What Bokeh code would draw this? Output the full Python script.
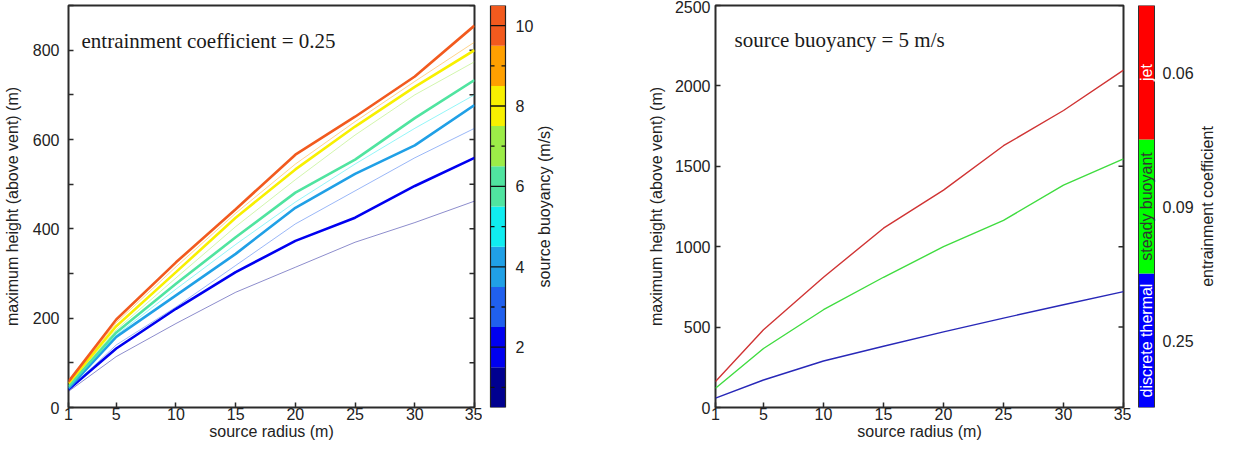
import math
from bokeh.plotting import figure
from bokeh.layouts import row
from bokeh.models import Range1d, FixedTicker, Label
from bokeh.embed import file_html
from bokeh.resources import INLINE
from bokeh.core.properties import value

# ---------------- data ----------------
radius = [1, 5, 10, 15, 20, 25, 30, 35]
radius_ticks = [1, 5, 10, 15, 20, 25, 30, 35]

buoyancy = [1, 2, 3, 4, 5, 6, 7, 8, 9, 10]
height_b1 = [36, 114, 188, 258, 314, 370, 414, 462]
height_b2 = [40, 132, 221, 303, 373, 425, 496, 559]
height_b3 = [40, 140, 225, 318, 411, 485, 559, 625]
height_b4 = [43, 158, 251, 344, 447, 523, 587, 677]
height_b5 = [45, 162, 265, 365, 460, 545, 625, 700]
height_b6 = [47, 168, 277, 381, 481, 555, 648, 733]
height_b7 = [52, 174, 290, 405, 510, 610, 700, 774]
height_b8 = [54, 182, 303, 425, 533, 629, 718, 800]
height_b9 = [56, 190, 315, 435, 545, 640, 730, 818]
height_b10 = [58, 197, 325, 444, 566, 651, 741, 855]
heights_left = [height_b1, height_b2, height_b3, height_b4, height_b5,
                height_b6, height_b7, height_b8, height_b9, height_b10]
buoyancy_colors = ["#00008F", "#0000F0", "#2060EE", "#20A0E6", "#10ECF0",
                   "#50E4A0", "#9CEC48", "#F8F000", "#FFA000", "#F25A1E"]
left_yticks = [0, 200, 400, 600, 800]
left_yminor = [100, 300, 500, 700, 900]
buoy_ticks = [2, 4, 6, 8, 10]

height_jet = [161, 484, 810, 1115, 1352, 1628, 1847, 2098]
height_steady = [120, 367, 608, 810, 1000, 1164, 1383, 1546]
height_thermal = [58, 171, 289, 381, 470, 556, 639, 721]
regimes = ["discrete thermal", "steady buoyant", "jet"]
regime_coeffs = ["0.25", "0.09", "0.06"]
regime_colors = ["#0000FF", "#00FF00", "#FF0000"]
regime_line_colors = ["#2828B8", "#40DC40", "#D03434"]
regime_text_colors = ["white", "#333333", "white"]
right_yticks = [0, 500, 1000, 1500, 2000, 2500]

FONT = "Liberation Sans"
SERIF = "Liberation Serif"
H = 443
TOP = 5
BOTTOM = 36
FRAME_COL = "#2b2b2b"


def make_panel(width, border_left, ymax, yticks, yminor, ylabel_standoff, tick_standoff):
    p = figure(width=width, height=H, x_range=Range1d(radius[0], radius[-1]),
               y_range=Range1d(0, ymax),
               output_backend="svg", toolbar_location=None,
               min_border_left=border_left, min_border_right=8,
               min_border_top=TOP, min_border_bottom=BOTTOM)
    p.grid.visible = False
    p.outline_line_color = FRAME_COL
    p.outline_line_width = 2
    xa = p.xaxis[0]
    ya = p.yaxis[0]
    xa.ticker = FixedTicker(ticks=radius_ticks, minor_ticks=[])
    ya.ticker = FixedTicker(ticks=yticks, minor_ticks=yminor)
    for ax in (xa, ya):
        ax.axis_line_color = None
        ax.major_tick_in = 5
        ax.major_tick_out = 0
        ax.minor_tick_in = 5
        ax.minor_tick_out = 0
        ax.major_tick_line_color = FRAME_COL
        ax.minor_tick_line_color = FRAME_COL
        ax.major_tick_line_width = 1.5
        ax.minor_tick_line_width = 1.5
        ax.major_label_text_font = FONT
        ax.major_label_text_font_size = "16px"
        ax.major_label_text_color = "#222222"
        ax.axis_label_text_font = FONT
        ax.axis_label_text_font_size = "16px"
        ax.axis_label_text_font_style = "normal"
        ax.axis_label_text_color = "#222222"
    xa.axis_label = "source radius (m)"
    xa.major_label_standoff = 0
    xa.axis_label_standoff = 0
    ya.axis_label = "maximum height (above vent) (m)"
    ya.major_label_standoff = tick_standoff
    ya.axis_label_standoff = ylabel_standoff
    # mirrored tick marks on the right edge of the frame
    all_ticks = list(yticks) + list(yminor)
    p.ray(x=[radius[-1]] * len(all_ticks), y=all_ticks, length=5, length_units="screen",
          angle=math.pi, line_color=FRAME_COL, line_width=1.5)
    return p


# ---------------- left panel ----------------
p1 = make_panel(482, 68, 900, left_yticks, left_yminor, 9, 9)
for b, hs, c in zip(buoyancy, heights_left, buoyancy_colors):
    if b % 2 == 0:
        p1.line(radius, hs, line_color=c, line_width=2.6)
    else:
        p1.line(radius, hs, line_color=c, line_width=1.0, line_alpha=0.45)
p1.add_layout(Label(x=radius[0], y=900, x_offset=13, y_offset=-35,
                    text="entrainment coefficient = 0.25",
                    text_font=SERIF, text_font_size="21px", text_color="#1a1a1a",
                    text_baseline="alphabetic"))

# ---------------- left colorbar ----------------
cb1 = figure(width=110, height=H, x_range=Range1d(0, 110), y_range=Range1d(0.5, 10.5),
             output_backend="svg", toolbar_location=None,
             x_axis_location=None, y_axis_location=None,
             min_border_left=0, min_border_right=0, min_border_top=TOP, min_border_bottom=BOTTOM)
cb1.grid.visible = False
cb1.outline_line_color = None
cb1.quad(left=8, right=23, bottom=[b - 0.5 for b in buoyancy], top=[b + 0.5 for b in buoyancy],
         fill_color=buoyancy_colors, line_color=None)
cb1.quad(left=8, right=23, bottom=buoyancy[0] - 0.5, top=buoyancy[-1] + 0.5,
         fill_color=None, line_color="#222222", line_width=1.2)
even = [b for b in buoyancy if b % 2 == 0]
odd = [b for b in buoyancy if b % 2 == 1]
cb1.segment(x0=8, x1=23, y0=even, y1=even, line_color="#111111", line_width=1.3)
cb1.segment(x0=8, x1=12, y0=odd, y1=odd, line_color="#111111", line_width=1.3)
cb1.segment(x0=19, x1=23, y0=odd, y1=odd, line_color="#111111", line_width=1.3)
cb1.text(x=33, y=buoy_ticks, text=[str(t) for t in buoy_ticks], text_align="left",
         text_baseline="middle", text_font=value(FONT), text_font_size="16px",
         text_color="#222222")
cb1.text(x=62, y=(buoyancy[0] + buoyancy[-1]) / 2, text=["source buoyancy (m/s)"],
         angle=math.pi / 2, text_align="center", text_baseline="middle",
         text_font=value(FONT), text_font_size="16px", text_color="#222222")

# ---------------- right panel ----------------
p2 = make_panel(539, 123, 2500, right_yticks, [], 7, 5)
for hs, c in zip([height_thermal, height_steady, height_jet], regime_line_colors):
    p2.line(radius, hs, line_color=c, line_width=1.4)
p2.add_layout(Label(x=radius[0], y=2500, x_offset=19, y_offset=-34,
                    text="source buoyancy = 5 m/s",
                    text_font=SERIF, text_font_size="21px", text_color="#1a1a1a",
                    text_baseline="alphabetic"))

# ---------------- right colorbar ----------------
cb2 = figure(width=86, height=H, x_range=Range1d(0, 86), y_range=Range1d(0, 3),
             output_backend="svg", toolbar_location=None,
             x_axis_location=None, y_axis_location=None,
             min_border_left=0, min_border_right=0, min_border_top=TOP, min_border_bottom=BOTTOM)
cb2.grid.visible = False
cb2.outline_line_color = None
idx = list(range(len(regimes)))
cb2.quad(left=7, right=23, bottom=idx, top=[i + 1 for i in idx],
         fill_color=regime_colors, line_color=None)
cb2.quad(left=7, right=23, bottom=0, top=len(regimes), fill_color=None,
         line_color="#333333", line_width=1)
cb2.text(x=15, y=[i + 0.5 for i in idx], text=regimes, angle=math.pi / 2,
         text_align="center", text_baseline="middle", text_color=regime_text_colors,
         text_font=value(FONT), text_font_size="16px")
cb2.text(x=31, y=[i + 0.5 for i in idx], text=regime_coeffs, text_align="left",
         text_baseline="middle", text_font=value(FONT), text_font_size="16px",
         text_color="#222222")
cb2.text(x=76, y=len(regimes) / 2, text=["entrainment coefficient"], angle=math.pi / 2,
         text_align="center", text_baseline="middle", text_font=value(FONT),
         text_font_size="16px", text_color="#222222")

layout = row(p1, cb1, p2, cb2)
open("out.html", "w").write(file_html(layout, INLINE))
